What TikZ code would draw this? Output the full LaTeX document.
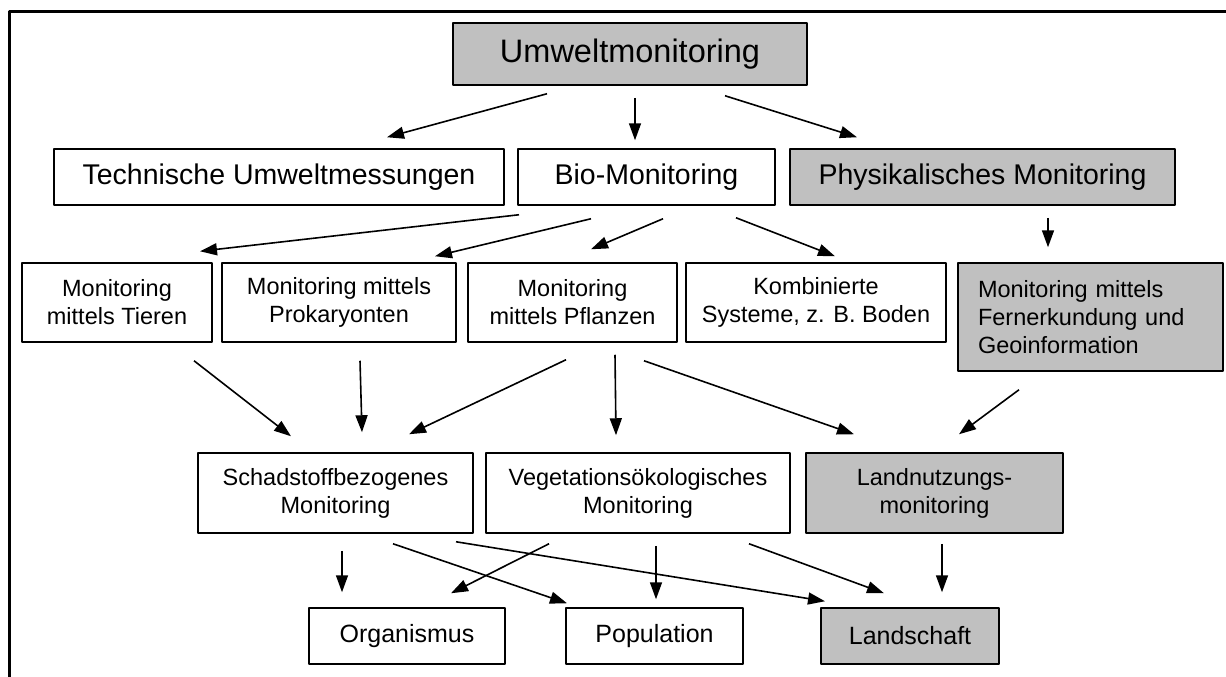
\documentclass[tikz,border=0pt]{standalone}
\usepackage{fontspec}
\setmainfont{Liberation Sans}
\usetikzlibrary{arrows.meta}
\definecolor{boxgray}{RGB}{192,192,192}
\begin{document}
\begin{tikzpicture}[x=1pt,y=-1pt,>={Triangle[length=17pt,width=12pt]},line join=round,
	box/.style={draw,line width=1.5pt,align=center,inner sep=0pt},
	grau/.style={box,fill=boxgray},
	big/.style={font=\fontsize{32.5}{37}\selectfont},
	mid/.style={font=\fontsize{28.5}{33}\selectfont},
	small/.style={font=\fontsize{23.5}{28}\selectfont},
	low/.style={font=\fontsize{25}{30}\selectfont},
	pfeil/.style={->,line width=1.6pt}]
	\useasboundingbox (0,0) rectangle (1226,677);
	\draw[line width=3pt] (9,677) -- (9,12) -- (1226,12);
	% Ebene 1 und 2
	\node[grau,big,minimum width=354pt,minimum height=62pt] (umw) at (630,54) {Umweltmonitoring};
	\node[box,mid,minimum width=450pt,minimum height=56pt] (tech) at (279,177) {Technische Umweltmessungen};
	\node[box,mid,minimum width=257pt,minimum height=56pt] (bio) at (646.5,177) {Bio-Monitoring};
	\node[grau,mid,minimum width=385pt,minimum height=56pt] (phys) at (982.5,177) {Physikalisches Monitoring};
	% Ebene 3
	\node[box,small,minimum width=190pt,minimum height=79pt] (tier) at (117,302.5) {Monitoring\\mittels Tieren};
	\node[box,small,minimum width=234pt,minimum height=79pt] (prok) at (339,302.5) {Monitoring mittels\\Prokaryonten};
	\node[box,small,minimum width=209pt,minimum height=79pt] (pfl) at (572.5,302.5) {Monitoring\\mittels Pflanzen};
	\node[box,small,minimum width=260pt,minimum height=79pt] (komb) at (816,302.5) {Kombinierte\\Systeme, z. B. Boden};
	\node[grau,small,align=left,text width=225pt,inner xsep=20pt,minimum height=108pt] (fern) at (1090.5,317) {Monitoring mittels\\Fernerkundung und\\Geoinformation};
	% Ebene 4
	\node[box,small,minimum width=275pt,minimum height=80pt] (schad) at (335.5,493) {Schadstoffbezogenes\\Monitoring};
	\node[box,small,minimum width=304pt,minimum height=80pt] (veg) at (638,493) {Vegetations\"okologisches\\Monitoring};
	\node[grau,small,minimum width=257pt,minimum height=80pt] (land) at (934.5,493) {Landnutzungs-\\monitoring};
	% Ebene 5
	\node[box,low,minimum width=196pt,minimum height=56pt] (org) at (407,636) {Organismus};
	\node[box,low,minimum width=177pt,minimum height=56pt] (pop) at (654.5,636) {Population};
	\node[grau,low,minimum width=178pt,minimum height=56pt] (lsch) at (910,636) {Landschaft};
	% Pfeile
	\foreach \p/\px/\py/\q/\qx/\qy in {
		umw.south/-83/8/tech.north/108/-11,
		umw.south/5/12/bio.north/-11.5/-8,
		umw.south/95/10/phys.north/-125.5/-11,
		bio.south/-127.5/9/tier.north/83/-11,
		bio.south/-55.5/13/prok.north/96/-6,
		bio.south/16.5/13/pfl.north/18.5/-13,
		bio.south/89.5/12/komb.north/19/-6,
		phys.south/65.5/12/fern.north/-42.5/-15,
		tier.south/77/18/schad.north/-44.5/-16,
		prok.south/21/18/schad.north/26.5/-20,
		pfl.south/-6.5/17/schad.north/73.5/-18,
		pfl.south/42.5/12/veg.north/-22/-17,
		pfl.south/71.5/18/land.north/-80.5/-18,
		fern.south/-71.5/18/land.north/24.5/-18,
		schad.south/6.5/17/org.north/-65/-15,
		schad.south/57.5/10/pop.north/-87.5/-4,
		schad.south/120.5/8/lsch.north/-85/-6,
		veg.south/-89/10/org.north/44/-14,
		veg.south/18/12/pop.north/1.5/-8,
		veg.south/111/10/lsch.north/-26/-14,
		land.south/7.5/10/lsch.north/32/-15}
	\draw[pfeil] ([shift={(\px,\py)}]\p) -- ([shift={(\qx,\qy)}]\q);
\end{tikzpicture}
\end{document}
